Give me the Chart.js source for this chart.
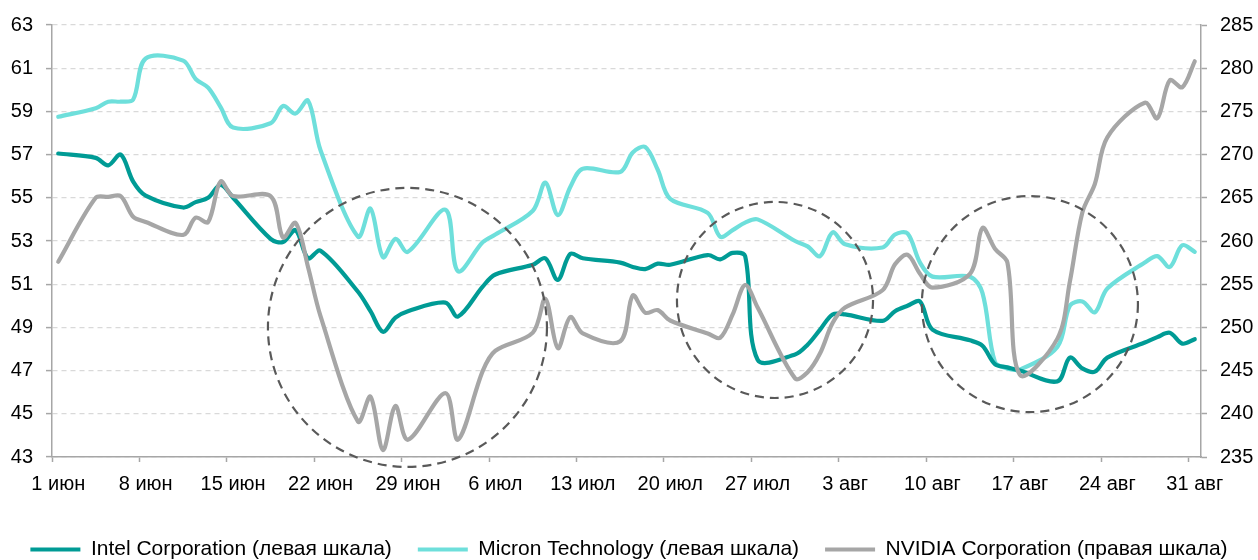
<!DOCTYPE html>
<html>
<head>
<meta charset="utf-8">
<script src="https://cdn.jsdelivr.net/npm/chart.js@4"></script>
<style>
html, body { margin: 0; padding: 0; background: #ffffff; }
#wrap { width: 1258px; height: 560px; }
</style>
</head>
<body>
<div id="wrap"><canvas id="c" width="1258" height="560"></canvas></div>
<script>
// ---- categories: every calendar day from 1 June to 31 August ----
const categories = [
  '1 июн','2 июн','3 июн','4 июн','5 июн','6 июн','7 июн','8 июн','9 июн','10 июн',
  '11 июн','12 июн','13 июн','14 июн','15 июн','16 июн','17 июн','18 июн','19 июн','20 июн',
  '21 июн','22 июн','23 июн','24 июн','25 июн','26 июн','27 июн','28 июн','29 июн','30 июн',
  '1 июл','2 июл','3 июл','4 июл','5 июл','6 июл','7 июл','8 июл','9 июл','10 июл',
  '11 июл','12 июл','13 июл','14 июл','15 июл','16 июл','17 июл','18 июл','19 июл','20 июл',
  '21 июл','22 июл','23 июл','24 июл','25 июл','26 июл','27 июл','28 июл','29 июл','30 июл','31 июл',
  '1 авг','2 авг','3 авг','4 авг','5 авг','6 авг','7 авг','8 авг','9 авг','10 авг',
  '11 авг','12 авг','13 авг','14 авг','15 авг','16 авг','17 авг','18 авг','19 авг','20 авг',
  '21 авг','22 авг','23 авг','24 авг','25 авг','26 авг','27 авг','28 авг','29 авг','30 авг','31 авг'
];

// ---- series (null = no trading that day) ----
const intel = [
  57.05, null, null, 56.85, 56.5, 57.0, 55.75, 55.1,
  null, null, 54.55, 54.8, 55.0, 55.6, 55.0,
  null, null, 53.1, 52.95, 53.5, 52.2, 52.55,
  null, null, 50.65, 49.75, 48.8, 49.45, 49.75,
  null, null, 50.15, 49.5, null, 50.9, 51.45,
  null, null, 51.9, 52.2, 51.2, 52.4, 52.2,
  null, null, 52.0, 51.8, 51.7, 51.95, 51.9,
  null, null, 52.35, 52.15, 52.45, 52.3, 47.5,
  null, null, 47.75, 48.2, 48.9, 49.6, 49.6,
  null, null, 49.3, 49.75, 50.0, 50.2, 48.9,
  null, null, 48.4, 48.15, 47.3, 47.15, 47.0,
  null, null, 46.5, 47.6, 47.1, 46.95, 47.6,
  null, null, 48.3, 48.55, 48.75, 48.25, 48.45
];
const micron = [
  58.75, null, null, 59.15, 59.45, 59.45, 59.55, 61.45,
  null, null, 61.35, 60.5, 60.1, 59.2, 58.25,
  null, null, 58.45, 59.25, 58.9, 59.5, 57.2,
  null, null, 53.2, 54.5, 52.25, 53.1, 52.5,
  null, null, 54.45, 51.6, null, 52.95, 53.3,
  null, null, 54.4, 55.7, 54.2, 55.5, 56.35,
  null, null, 56.2, 57.1, 57.35, 56.3, 54.95,
  null, null, 54.3, 53.2, 53.5, 53.85, 54.0,
  null, null, 53.0, 52.75, 52.3, 53.4, 52.85,
  null, null, 52.7, 53.3, 53.35, 52.0, 51.35,
  null, null, 51.35, 50.6, 47.4, 47.1, 47.05,
  null, null, 48.1, 50.0, 50.2, 49.7, 50.8,
  null, null, 52.0, 52.3, 51.8, 52.8, 52.5
];
const nvidia = [
  257.6, null, null, 265.0, 265.1, 265.2, 262.8, 262.2,
  null, null, 260.7, 262.7, 262.2, 266.9, 265.2,
  null, null, 265.2, 260.4, 262.1, 257.0, 251.3,
  null, null, 239.1, 242.0, 235.8, 240.9, 237.0,
  null, null, 242.4, 237.0, null, 245.0, 247.3,
  null, null, 249.4, 253.3, 247.6, 251.2, 249.3,
  null, null, 248.4, 253.7, 251.7, 252.0, 250.8,
  null, null, 249.3, 248.8, 251.5, 254.9, 252.3,
  null, null, 244.1, 244.8, 247.0, 250.5, 252.3,
  null, null, 254.3, 257.3, 258.4, 256.2, 254.6,
  null, null, 256.2, 261.5, 259.1, 257.5, 244.5,
  null, null, 248.7, 255.3, 263.3, 266.6, 272.0,
  null, null, 276.0, 274.2, 278.6, 277.8, 280.8
];

const seriesNames = [
  'Intel Corporation (левая шкала)',
  'Micron Technology (левая шкала)',
  'NVIDIA Corporation (правая шкала)'
];

// left / right axis ranges
const leftAxis = { min: 43, max: 63, step: 2 };
const rightAxis = { min: 235, max: 285, step: 5 };
const tickEvery = 7;

// dashed circle annotations, in data units (day index, left-axis value, radius in days)
const circleNotes = [
  { day: 27.96, value: 49.0, radiusDays: 11.17 },
  { day: 57.39, value: 50.27, radiusDays: 7.85 },
  { day: 77.8, value: 50.08, radiusDays: 8.65 }
];

const circlesPlugin = {
  id: 'circles',
  afterDatasetsDraw(chart) {
    const { ctx } = chart;
    const x = chart.scales.x, y = chart.scales.y;
    const dayPx = x.getPixelForValue(1) - x.getPixelForValue(0);
    ctx.save();
    ctx.strokeStyle = '#595959';
    ctx.lineWidth = 2.2;
    ctx.setLineDash([9, 6]);
    circleNotes.forEach(c => {
      ctx.beginPath();
      ctx.arc(x.getPixelForValue(c.day), y.getPixelForValue(c.value), c.radiusDays * dayPx, 0, Math.PI * 2);
      ctx.stroke();
    });
    ctx.restore();
  }
};

Chart.defaults.font.family = "'Liberation Sans', Arial, sans-serif";
Chart.defaults.font.size = 20;
Chart.defaults.color = '#000000';

const axisGrey = '#a6a6a6';

new Chart(document.getElementById('c'), {
  type: 'line',
  data: {
    labels: categories,
    datasets: [
      { label: seriesNames[0], data: intel, yAxisID: 'y', borderColor: '#009b95', backgroundColor: '#009b95', borderWidth: 4.2, spanGaps: true, order: 1 },
      { label: seriesNames[1], data: micron, yAxisID: 'y', borderColor: '#6edfdb', backgroundColor: '#6edfdb', borderWidth: 4.2, spanGaps: true, order: 2 },
      { label: seriesNames[2], data: nvidia, yAxisID: 'y1', borderColor: '#a6a6a6', backgroundColor: '#a6a6a6', borderWidth: 4.2, spanGaps: true, order: 0 }
    ]
  },
  options: {
    responsive: false,
    animation: false,
    events: [],
    elements: {
      point: { radius: 0 },
      line: { tension: 0.33, borderCapStyle: 'round', borderJoinStyle: 'round' }
    },
    layout: { padding: { top: 25, left: 0, right: 0, bottom: 0 } },
    plugins: {
      tooltip: { enabled: false },
      legend: {
        position: 'bottom',
        maxHeight: 47,
        labels: {
          boxWidth: 50,
          boxHeight: 4,
          padding: 26,
          color: '#000000',
          font: { size: 21 },
          sort: (a, b) => a.datasetIndex - b.datasetIndex,
          generateLabels(chart) {
            const items = Chart.defaults.plugins.legend.labels.generateLabels(chart);
            items.forEach(it => { it.lineWidth = 0; it.fillStyle = it.strokeStyle; });
            return items;
          }
        }
      }
    },
    scales: {
      x: {
        type: 'category',
        offset: true,
        afterFit: s => { s.height = 56; },
        grid: {
          offset: true,
          drawOnChartArea: false,
          drawTicks: true,
          tickLength: 5,
          tickWidth: 1.5,
          tickColor: ctx => (ctx.index % tickEvery === 0 ? axisGrey : 'rgba(0,0,0,0)')
        },
        border: { color: axisGrey, width: 1.5 },
        ticks: {
          autoSkip: false,
          maxRotation: 0,
          minRotation: 0,
          padding: 10,
          color: '#000000',
          callback: function (value, index) {
            return index % tickEvery === 0 ? this.getLabelForValue(value) : '';
          }
        }
      },
      y: {
        position: 'left',
        min: leftAxis.min,
        max: leftAxis.max,
        afterFit: s => { s.width = 52; },
        ticks: { stepSize: leftAxis.step, padding: 13, color: '#000000' },
        grid: { color: '#d9d9d9', lineWidth: 1.2, tickLength: 6, tickColor: axisGrey, tickWidth: 1.5 },
        border: { color: axisGrey, width: 1.5, dash: [5, 4] }
      },
      y1: {
        position: 'right',
        min: rightAxis.min,
        max: rightAxis.max,
        afterFit: s => { s.width = 57; },
        ticks: { stepSize: rightAxis.step, padding: 13, color: '#000000' },
        grid: { drawOnChartArea: false, tickLength: 6, tickColor: axisGrey, tickWidth: 1.5 },
        border: { color: axisGrey, width: 1.5 }
      }
    }
  },
  plugins: [circlesPlugin]
});
</script>
</body>
</html>
